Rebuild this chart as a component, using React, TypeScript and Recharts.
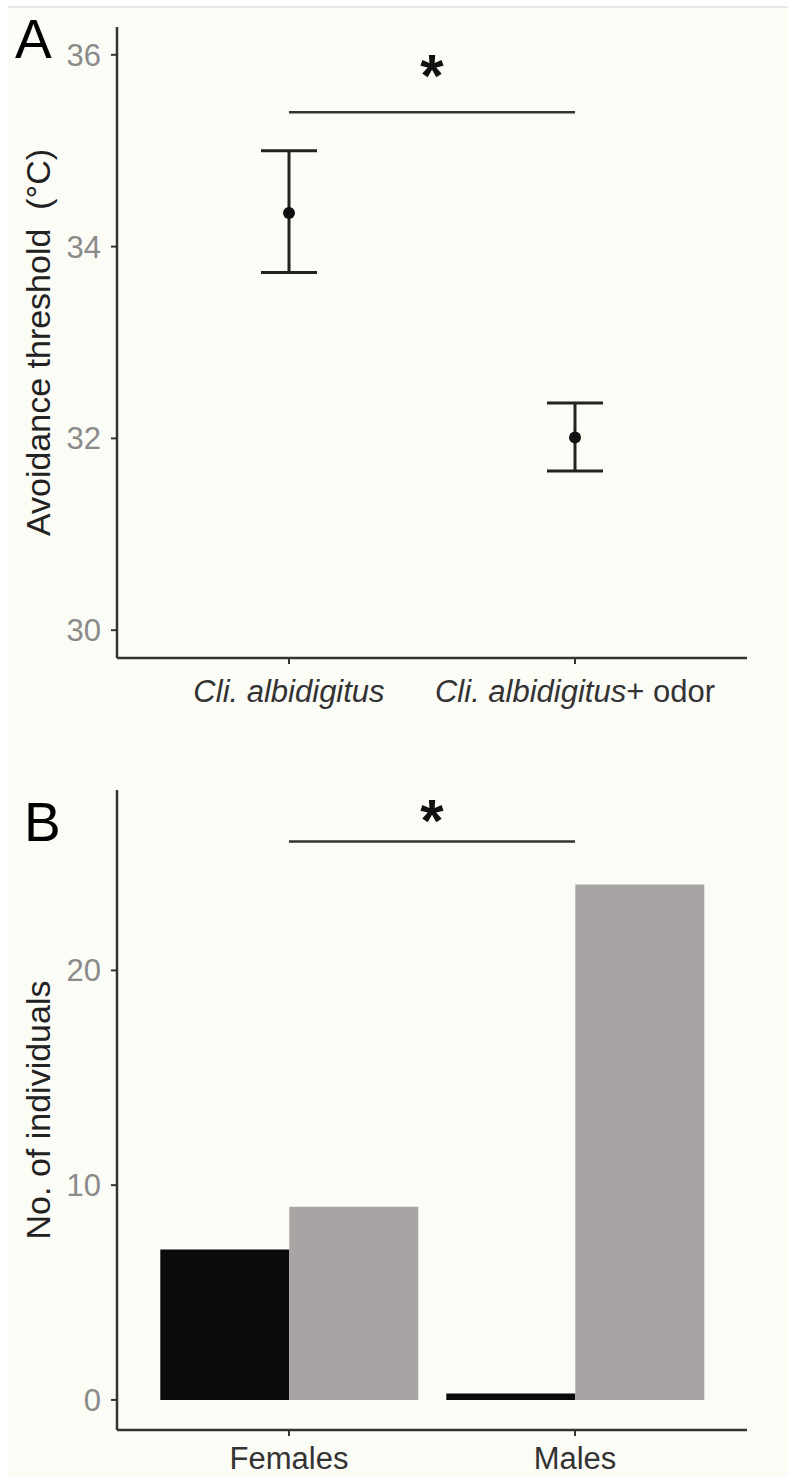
import {
  Bar,
  BarChart,
  ComposedChart,
  ErrorBar,
  Line,
  ReferenceLine,
  XAxis,
  YAxis,
} from "recharts";

// panel A: avoidance threshold (mean with interval)
const species = ["Cli. albidigitus", "Cli. albidigitus+ odor"];
const thresholdMean = [34.35, 32.01];
const thresholdLow = [33.73, 31.66];
const thresholdHigh = [35.0, 32.37];
const thresholdTicks = [30, 32, 34, 36];
const thresholdSig = 35.4;

// panel B: counts per sex
const sexes = ["Females", "Males"];
const countsBlack = [7, 0.3];
const countsGray = [9, 24];
const countTicks = [0, 10, 20];
const countSig = 26;

const FONT = '"Liberation Sans", Arial, Helvetica, sans-serif';
const BG = "#fcfcf7";
const AXIS = "#333333";

const thresholdData = species.map((name, i) => ({
  name,
  mean: thresholdMean[i],
  err: [thresholdMean[i] - thresholdLow[i], thresholdHigh[i] - thresholdMean[i]],
}));

const countData = sexes.map((name, i) => ({
  name,
  black: countsBlack[i],
  gray: countsGray[i],
}));

function YTitle(props: any) {
  const { viewBox, text } = props;
  const cy = viewBox.y + viewBox.height / 2;
  return (
    <text
      x={50}
      y={cy}
      transform={`rotate(-90 50 ${cy})`}
      textAnchor="middle"
      fontSize={34}
      fill="#222"
      fontFamily={FONT}
      style={{ whiteSpace: "pre" }}
    >
      {text}
    </text>
  );
}

function SpeciesTick(props: any) {
  const { x, y, payload } = props;
  const [italic, rest] = String(payload.value).split("+");
  return (
    <text x={x} y={y} dy="0.71em" textAnchor="middle" fontSize={31} fill="#333" fontFamily={FONT}>
      <tspan fontStyle="italic">{italic}</tspan>
      {rest !== undefined && <tspan>+{rest}</tspan>}
    </text>
  );
}

const yTick = { fontSize: 31, fill: "#8a8a8a", fontFamily: FONT };
const xTick = { fontSize: 31, fill: "#333", fontFamily: FONT };
const axisLine = { stroke: AXIS, strokeWidth: 2.5 };
const tickLine = { stroke: AXIS, strokeWidth: 2 };

const starLabel = (offset: number) => ({
  value: "*",
  position: "top" as const,
  offset,
  fontSize: 60,
  fontWeight: "bold",
  fill: "#111",
  fontFamily: FONT,
});

const panelLetter: React.CSSProperties = {
  position: "absolute",
  fontFamily: FONT,
  fontSize: 55,
  lineHeight: 1,
  color: "#000",
};

export default function App() {
  return (
    <div
      style={{
        position: "absolute",
        left: 0,
        top: 0,
        width: 788,
        height: 1477,
        background: "#ffffff",
        overflow: "hidden",
      }}
    >
      <div
        style={{
          position: "absolute",
          left: 8,
          top: 6,
          right: 0,
          bottom: 0,
          background: BG,
          borderTop: "2px solid #e6e6e6",
        }}
      />
      <div style={{ ...panelLetter, left: 15, top: 12 }}>A</div>
      <div style={{ ...panelLetter, left: 24, top: 795 }}>B</div>

      <div style={{ position: "absolute", left: 0, top: 0 }}>
        <ComposedChart
          width={788}
          height={720}
          data={thresholdData}
          margin={{ top: 27, right: 41, bottom: 12, left: 0 }}
        >
          <XAxis
            dataKey="name"
            type="category"
            padding={{ left: 172, right: 172 }}
            axisLine={axisLine}
            tickLine={tickLine}
            tickSize={6}
            tickMargin={16}
            height={50}
            interval={0}
            tick={<SpeciesTick />}
          />
          <YAxis
            type="number"
            domain={[29.71, 36.29]}
            ticks={thresholdTicks}
            allowDataOverflow
            width={117}
            axisLine={axisLine}
            tickLine={tickLine}
            tickSize={6}
            tickMargin={10}
            tick={yTick}
            label={<YTitle text="Avoidance threshold  (°C)" />}
          />
          <ReferenceLine
            segment={[
              { x: species[0], y: thresholdSig },
              { x: species[1], y: thresholdSig },
            ]}
            stroke={AXIS}
            strokeWidth={2.5}
            label={starLabel(16)}
          />
          <Line
            dataKey="mean"
            stroke="none"
            dot={{ r: 6, fill: "#111", stroke: "none" }}
            activeDot={false}
            isAnimationActive={false}
          >
            <ErrorBar
              dataKey="err"
              direction="y"
              width={28}
              stroke="#222"
              strokeWidth={3}
              isAnimationActive={false}
            />
          </Line>
        </ComposedChart>
      </div>

      <div style={{ position: "absolute", left: 0, top: 760 }}>
        <BarChart
          width={788}
          height={717}
          data={countData}
          margin={{ top: 30, right: 41, bottom: 2, left: 0 }}
          barCategoryGap="5%"
          barGap={0}
        >
          <XAxis
            dataKey="name"
            type="category"
            padding={{ left: 29, right: 29 }}
            axisLine={axisLine}
            tickLine={tickLine}
            tickSize={6}
            tickMargin={11}
            height={45}
            tick={xTick}
          />
          <YAxis
            type="number"
            domain={[-1.4, 28.4]}
            ticks={countTicks}
            allowDataOverflow
            width={117}
            axisLine={axisLine}
            tickLine={tickLine}
            tickSize={6}
            tickMargin={10}
            tick={yTick}
            label={<YTitle text="No. of individuals" />}
          />
          <Bar dataKey="black" fill="#0b0b0b" isAnimationActive={false} />
          <Bar dataKey="gray" fill="#a8a4a4" isAnimationActive={false} />
          <ReferenceLine
            segment={[
              { x: sexes[0], y: countSig },
              { x: sexes[1], y: countSig },
            ]}
            stroke={AXIS}
            strokeWidth={2.5}
            label={starLabel(1)}
          />
        </BarChart>
      </div>
    </div>
  );
}
